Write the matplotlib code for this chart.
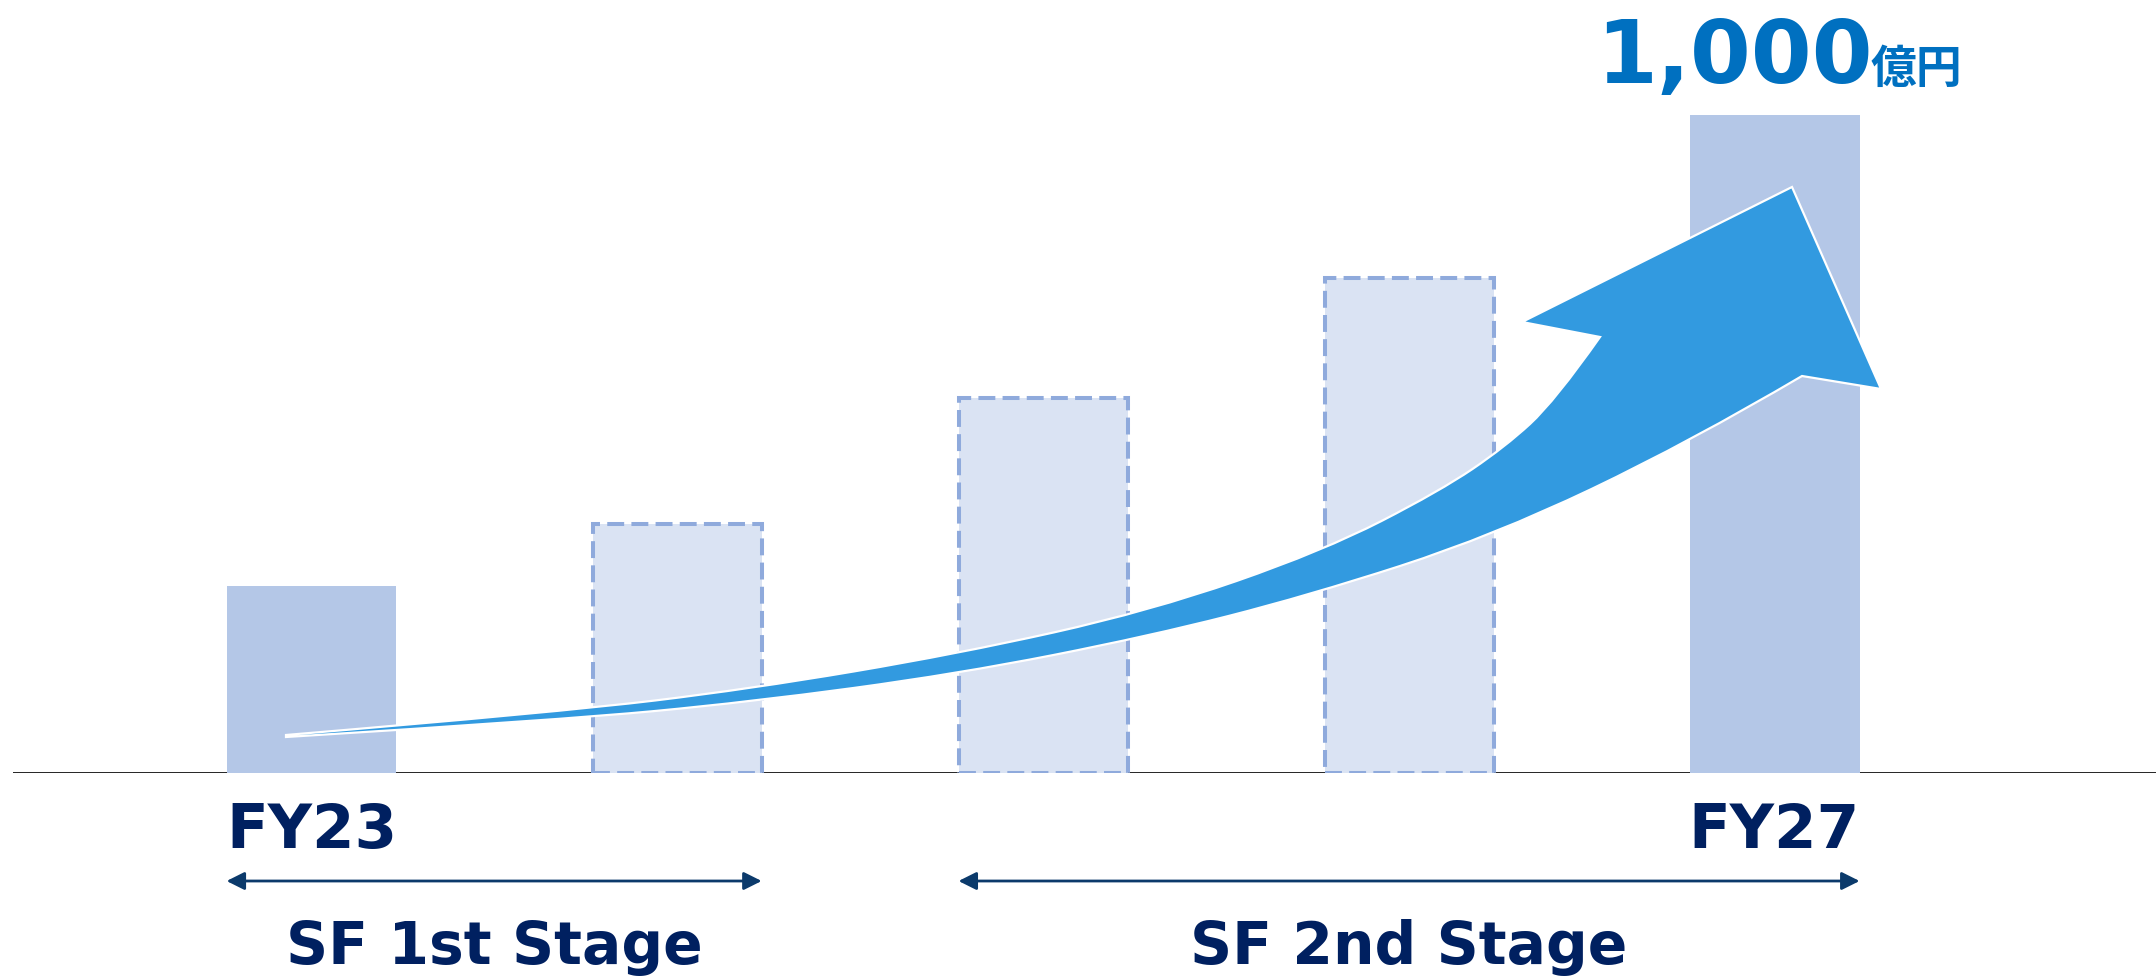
import numpy as np
import matplotlib.pyplot as plt
from matplotlib.path import Path
from matplotlib.patches import PathPatch
from matplotlib.transforms import Affine2D, blended_transform_factory

# chart data
years = ['FY23', 'FY24', 'FY25', 'FY26', 'FY27']
sales = [284, 378, 570, 752, 1000]          # 億円
is_plan = [False, True, True, True, False]   # dashed = target / plan
stages = ['SF 1st Stage', 'SF 2nd Stage']
stage_span = [(0, 1), (2, 4)]
top_label = '1,000'
unit = '億円'

W, H = 2156, 979
solid_col = '#B4C7E7'
plan_col = '#DAE3F3'
plan_edge = '#8FAADC'
navy = '#002060'
arrow_navy = '#0B3A6B'
blue = '#329AE0'

fig = plt.figure(figsize=(W / 100, H / 100), dpi=100)
ax = fig.add_axes([13 / W, (H - 774) / H, (W - 13) / W, 774 / H])
ax.set_xlim(-0.8146, 5.041)
ax.set_ylim(0, 1176.3)
ax.axis('off')

# pixel coords (origin top-left) for decorations
pix = Affine2D().scale(1 / W, -1 / H).translate(0, 1) + fig.transFigure
xdata_ypix = blended_transform_factory(ax.transData, pix)

x = np.arange(len(years))
bw = 0.462
ax.axhline(0, color='black', lw=1.2, zorder=1)
for i in range(len(years)):
    if is_plan[i]:
        ax.bar(x[i], sales[i], width=bw, color=plan_col, edgecolor=plan_edge,
               linewidth=2.9, linestyle=(0, (4.2, 1.8)), zorder=2)
    else:
        ax.bar(x[i], sales[i], width=bw, color=solid_col, linewidth=0, zorder=2)

# big growth arrow (pixel outline)
upper = [(286, 736), (560, 713), (750, 690), (957, 655), (1150, 612),
         (1323, 552), (1440, 492), (1505, 448), (1555, 402), (1600, 338)]
lower = [(286, 738), (560, 721), (750, 703), (957, 675), (1150, 637),
         (1307, 597), (1493, 537), (1690, 443), (1802, 377)]
head = [(1522, 323), (1792, 188), (1881, 390), (1802, 377)]


def smooth(pts):
    v, c = [], []
    for i in range(1, len(pts) - 2):
        mid = ((pts[i][0] + pts[i + 1][0]) / 2, (pts[i][1] + pts[i + 1][1]) / 2)
        v += [pts[i], mid]
        c += [Path.CURVE3, Path.CURVE3]
    v += [pts[-2], pts[-1]]
    c += [Path.CURVE3, Path.CURVE3]
    return v, c


verts = [upper[0]]
codes = [Path.MOVETO]
v, c = smooth(upper)
verts += v; codes += c
verts += head; codes += [Path.LINETO] * len(head)
v, c = smooth(lower[::-1])
verts += v; codes += c
verts.append(upper[0]); codes.append(Path.CLOSEPOLY)
ax.add_patch(PathPatch(Path(verts, codes), facecolor=blue, edgecolor='white',
                       lw=1.6, transform=pix, clip_on=False, zorder=5))

# labels
ax.text(1596, 83, top_label, transform=pix, ha='left', va='baseline',
        fontsize=63, fontweight='bold', color='#0070C0', family='DejaVu Sans')
ax.text(1871, 83, unit, transform=pix, ha='left', va='baseline',
        fontsize=33, fontweight='bold', color='#0070C0', family='Noto Sans CJK JP')

ax.text(x[0] - bw / 2, 848, years[0], transform=xdata_ypix, ha='left', va='baseline',
        fontsize=44, fontweight='bold', color=navy)
ax.text(x[-1] + bw / 2, 848, years[-1], transform=xdata_ypix, ha='right', va='baseline',
        fontsize=44, fontweight='bold', color=navy)

for name, (a, b) in zip(stages, stage_span):
    ax.annotate('', xy=(x[b] + bw / 2, 882), xytext=(x[a] - bw / 2, 882),
                xycoords=xdata_ypix, textcoords=xdata_ypix,
                arrowprops=dict(arrowstyle='<|-|>', color=arrow_navy, lw=2,
                                mutation_scale=27, shrinkA=0, shrinkB=0))
    mid = (x[a] + x[b]) / 2
    ax.text(mid, 964, name, transform=xdata_ypix, ha='center', va='baseline',
            fontsize=42, fontweight='bold', color=navy)

fig.savefig('out.png', dpi=100)
